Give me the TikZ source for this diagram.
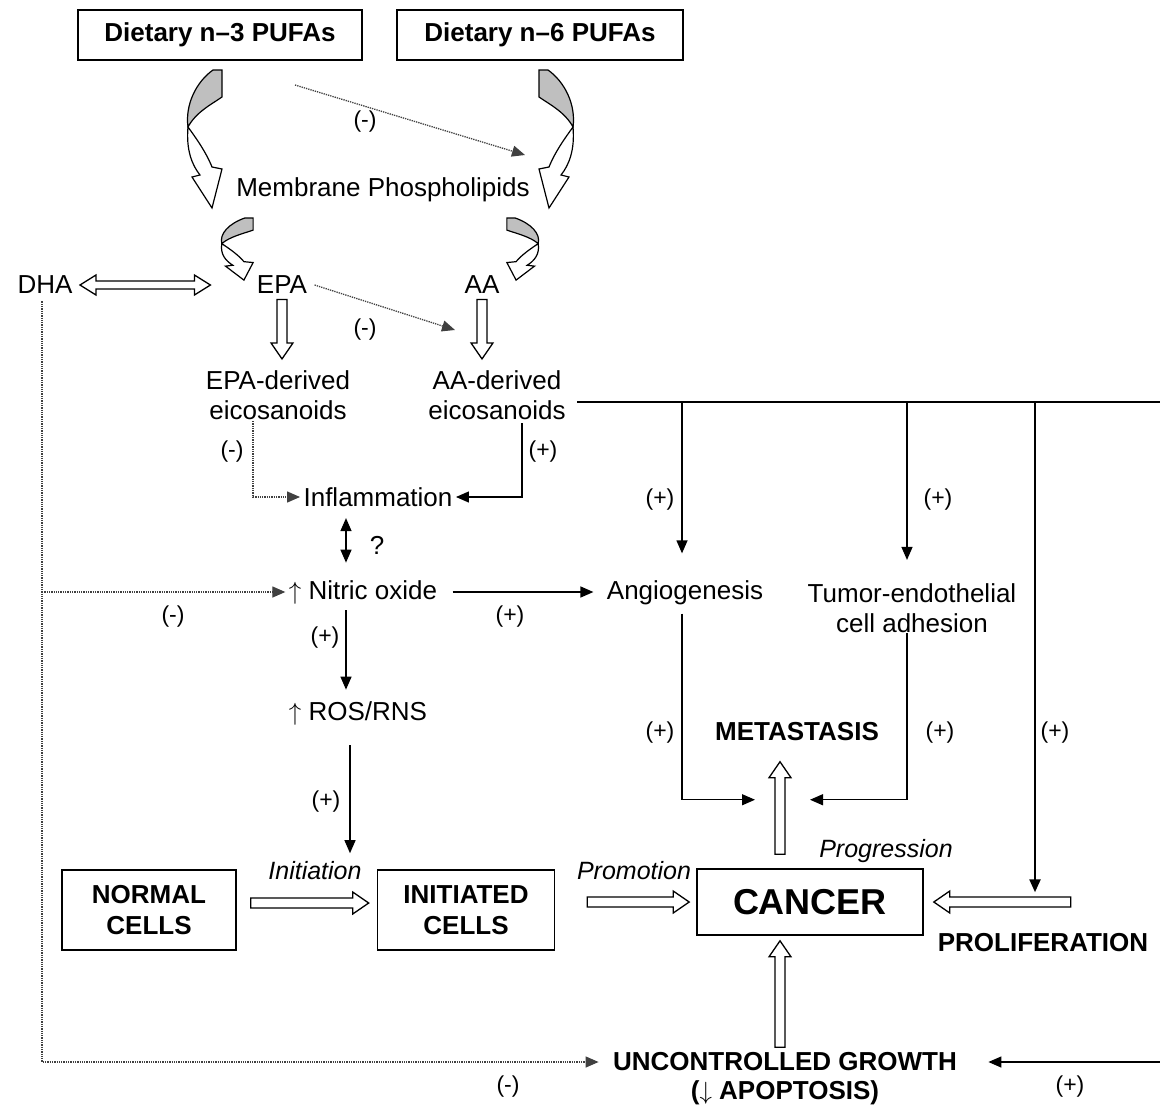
\documentclass[tikz,border=0pt]{standalone}
\usepackage{fontspec}
\setmainfont{Liberation Sans}
\usetikzlibrary{arrows.meta,calc,positioning}

\tikzset{
  bend/.pic={
    \filldraw[fill=black!25, line width=1.2pt] (27,0) -- (36,0) -- (36,27) .. controls (26,34) and (10,42) .. (2,57) .. controls (-1,35) and (10,12) .. (27,0) -- cycle;
    \filldraw[fill=white, line width=1.2pt] (2,57) .. controls (10,68) and (20,82) .. (26,97) -- (36,99) -- (26,138) -- (6,107) -- (14,105) .. controls (6,95) and (0,80) .. (2,57) -- cycle;
  },
  hollow/.style={draw, fill=white, line width=1.3pt, to path={
    ($(\tikztotarget)!16pt!(\tikztostart)$) coordinate (hb)
    ($(\tikztostart)!5pt!90:(\tikztotarget)$) -- ($(hb)!5pt!90:(\tikztotarget)$)
    -- ($(hb)!11pt!90:(\tikztotarget)$) -- (\tikztotarget)
    -- ($(hb)!11pt!-90:(\tikztotarget)$) -- ($(hb)!5pt!-90:(\tikztotarget)$)
    -- ($(\tikztostart)!5pt!-90:(\tikztotarget)$) -- cycle}},
  hollowboth/.style={draw, fill=white, line width=1.3pt, to path={
    ($(\tikztotarget)!16pt!(\tikztostart)$) coordinate (hb)
    ($(\tikztostart)!16pt!(\tikztotarget)$) coordinate (ha)
    (\tikztostart) -- ($(ha)!10pt!90:(\tikztotarget)$) -- ($(ha)!4pt!90:(\tikztotarget)$)
    -- ($(hb)!4pt!90:(\tikztotarget)$) -- ($(hb)!10pt!90:(\tikztotarget)$) -- (\tikztotarget)
    -- ($(hb)!10pt!-90:(\tikztotarget)$) -- ($(hb)!4pt!-90:(\tikztotarget)$)
    -- ($(ha)!4pt!-90:(\tikztotarget)$) -- ($(ha)!10pt!-90:(\tikztotarget)$) -- cycle}}
}

\begin{document}
\begin{tikzpicture}[x=1pt, y=-1pt,
    txt/.style={font=\fontsize{26}{30}\selectfont},
    bold/.style={font=\fontsize{26}{31}\selectfont\bfseries},
    ital/.style={font=\fontsize{25}{30}\selectfont\itshape},
    sign/.style={font=\fontsize{23}{26}\selectfont},
    box/.style={draw, line width=1.6pt},
    arr/.style={-{Triangle[length=13pt,width=11pt]}, line width=1.3pt},
    dots/.style={arr, densely dotted, draw=black!75},
    bus/.style={line width=2.4pt}]

    \useasboundingbox (0,0) rectangle (1160,1109);

    % fatty acids
    \node[box, bold, minimum width=284pt, minimum height=50pt] (n3) at (220,35) {Dietary n--3 PUFAs};
    \node[box, bold, minimum width=286pt, minimum height=50pt] (n6) at (540,35) {Dietary n--6 PUFAs};
    \node[txt] (memb) at (383,190) {Membrane Phospholipids};
    \node[txt] (dha) at (45,285) {DHA};
    \node[txt] (epa) at (282,285) {EPA};
    \node[txt] (aa) at (482,285) {AA};
    \node[txt, align=center] (epae) at (278,395) {EPA-derived\\eicosanoids};
    \node[txt, align=center] (aae) at (497,395) {AA-derived\\eicosanoids};
    \node[txt] (infl) at (378,497) {Inflammation};
    \node[txt] (no) at (363,592) {$\uparrow$ Nitric oxide};
    \node[txt] (ros) at (358,713) {$\uparrow$ ROS/RNS};
    \node[txt] (angio) at (685,593) {Angiogenesis};
    \node[txt, align=center] (tum) at (912,608) {Tumor-endothelial\\cell adhesion};
    \node[bold] (meta) at (797,732) {METASTASIS};

    % carcinogenesis
    \node[box, bold, align=center, minimum width=174pt, minimum height=80pt] (normal) at (149,910) {NORMAL\\CELLS};
    \node[box, bold, align=center, minimum width=177pt, minimum height=80pt] (init) at (466,910) {INITIATED\\CELLS};
    \node[box, font=\fontsize{36}{40}\selectfont\bfseries, minimum width=226pt, minimum height=66pt] (cancer) at (810,902) {CANCER};
    \node[bold] (prolif) at (1043,943) {PROLIFERATION};
    \node[bold] (ug) at (785,1062) {UNCONTROLLED GROWTH};
    \node[bold] (apo) at (785,1093) {($\downarrow$ APOPTOSIS)};
    \node[ital] (tinit) at (315,871) {Initiation};
    \node[ital] (tprom) at (634,871) {Promotion};
    \node[ital] (tprog) at (886,851) {Progression};

    % incorporation into membranes
    \pic at (186,70) {bend};
    \pic[xscale=-1] at (575,70) {bend};
    \pic[xscale=0.92, yscale=0.45] at (220,218) {bend};
    \pic[xscale=-0.92, yscale=0.45] at (540,218) {bend};

    \coordinate (c1) at (295,85);
    \coordinate (c2) at (525,155);
    \draw[dots] (c1) -- (c2);
    \coordinate (c3) at (455,330);
    \draw[dots] ([xshift=4pt]epa.east) -- (c3);

    \draw[hollowboth] ([xshift=4pt]dha.east) to ([xshift=-43pt]epa.west |- dha.east);
    \draw[hollow] ([shift={(0,2)}]epa.south) to ([yshift=8pt]epa.south |- epae.north);
    \draw[hollow] ([shift={(0,2)}]aa.south) to ([yshift=8pt]aa.south |- aae.north);

    \draw[dots] ([shift={(-25,-2)}]epae.south) |- (infl.west);
    \draw[arr] ([xshift=25pt]aae.south) |- (infl.east);

    % right-hand bus
    \coordinate (bus) at (1160,402);
    \draw[bus] ([xshift=8pt]aae.east |- bus) -- (bus);
    \draw[arr] ([xshift=-3pt]angio.north |- bus) -- ([shift={(-3,-24)}]angio.north);
    \draw[arr] ([xshift=-5pt]tum.north |- bus) -- ([shift={(-5,-20)}]tum.north);
    \draw[arr, line width=2.4pt] ([xshift=-8pt]prolif.north |- bus) -- ([shift={(-8,-38)}]prolif.north);

    \draw[arr, {Triangle[length=13pt,width=11pt]}-{Triangle[length=13pt,width=11pt]}] ([shift={(-32,8)}]infl.south) -- ([shift={(-17,-14)}]no.north);
    \draw[arr] ([xshift=12pt]no.east) -- ([xshift=-10pt]angio.west |- no.east);
    \draw[arr] ([shift={(-17,3)}]no.south) -- ([shift={(-12,-8)}]ros.north);
    \draw[arr] ([shift={(-8,17)}]ros.south) -- ([shift={(-116,-16)}]init.north);

    % DHA
    \draw[dots] ([shift={(-3,4)}]dha.south) |- ([xshift=-11pt]ug.west);
    \draw[dots] ([xshift=-3pt]dha.south |- no.west) -- (no.west);

    \draw[arr] ([shift={(-3,5)}]angio.south) |- ([shift={(-42,55)}]meta.south);
    \draw[arr] ([shift={(-5,-3)}]tum.south) |- ([shift={(13,55)}]meta.south);

    \draw[hollow] ([shift={(-30,-14)}]cancer.north) to ([shift={(-17,17)}]meta.south);
    \draw[hollow] ([shift={(14,-7)}]normal.east) to ([shift={(-8,-7)}]init.west);
    \draw[hollow] ([xshift=32pt]init.east |- cancer.west) to ([xshift=-7pt]cancer.west);
    \draw[hollow] ([xshift=147pt]cancer.east) to ([xshift=10pt]cancer.east);
    \draw[hollow] ([shift={(-5,-2)}]ug.north) to ([shift={(-30,5)}]cancer.south);

    \coordinate (edge) at (1160,1062);
    \draw[arr] (edge) -- ([xshift=28pt]ug.east);

    % signs
    \node[sign] (s1) at (365,122) {(-)};
    \node[sign] (s2) at (365,330) {(-)};
    \node[sign] (s3) at (232,452) {(-)};
    \node[sign] (s4) at (543,452) {(+)};
    \node[sign] (s5) at (660,500) {(+)};
    \node[sign] (s6) at (938,500) {(+)};
    \node[txt] (qm) at (377,545) {?};
    \node[sign] (s7) at (173,617) {(-)};
    \node[sign] (s8) at (510,617) {(+)};
    \node[sign] (s9) at (325,638) {(+)};
    \node[sign] (s10) at (660,733) {(+)};
    \node[sign] (s11) at (940,733) {(+)};
    \node[sign] (s12) at (1055,733) {(+)};
    \node[sign] (s13) at (326,802) {(+)};
    \node[sign] (s14) at (508,1087) {(-)};
    \node[sign] (s15) at (1070,1087) {(+)};

\end{tikzpicture}
\end{document}
